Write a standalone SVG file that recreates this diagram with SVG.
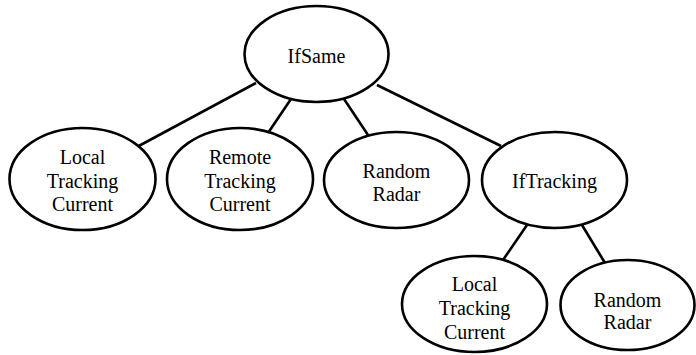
<svg xmlns="http://www.w3.org/2000/svg" width="696" height="355" viewBox="0 0 696 355">
  <style>
    .node ellipse { fill: #ffffff; stroke: #000000; stroke-width: 2.6; }
    .node text { font-family: "Liberation Serif", "Times New Roman", serif; font-size: 20px; fill: #000000; text-anchor: middle; }
    .edges line { stroke: #000000; stroke-width: 2.6; }
  </style>
  <rect width="696" height="355" fill="#ffffff"/>
  <!-- tree connectors -->
  <g id="edges" class="edges">
    <line x1="256" y1="83" x2="135" y2="148"/>
    <line x1="291" y1="99" x2="268" y2="133"/>
    <line x1="344" y1="99" x2="368" y2="135"/>
    <line x1="377" y1="85" x2="501" y2="146"/>
    <line x1="527" y1="225" x2="503" y2="260"/>
    <line x1="582" y1="225" x2="605" y2="263"/>
  </g>
  <g id="ifsame" class="node">
    <ellipse cx="316.5" cy="54" rx="72" ry="48"/>
    <text x="316.5" y="63">IfSame</text>
  </g>
  <g id="local1" class="node">
    <ellipse cx="82.5" cy="179" rx="73" ry="51"/>
    <text x="82.5" y="164">Local</text>
    <text x="82.5" y="187.5">Tracking</text>
    <text x="82.5" y="211">Current</text>
  </g>
  <g id="remote" class="node">
    <ellipse cx="240" cy="179" rx="73" ry="51"/>
    <text x="240" y="164">Remote</text>
    <text x="240" y="187.5">Tracking</text>
    <text x="240" y="211">Current</text>
  </g>
  <g id="random1" class="node">
    <ellipse cx="396.5" cy="180" rx="72.5" ry="48"/>
    <text x="396.5" y="178">Random</text>
    <text x="396.5" y="201">Radar</text>
  </g>
  <g id="iftracking" class="node">
    <ellipse cx="554.5" cy="180" rx="72.5" ry="48"/>
    <text x="554.5" y="188">IfTracking</text>
  </g>
  <g id="local2" class="node">
    <ellipse cx="474.5" cy="304" rx="72.5" ry="48"/>
    <text x="474.5" y="291">Local</text>
    <text x="474.5" y="315">Tracking</text>
    <text x="474.5" y="339">Current</text>
  </g>
  <g id="random2" class="node">
    <ellipse cx="627.5" cy="305" rx="67" ry="45"/>
    <text x="627.5" y="307">Random</text>
    <text x="627.5" y="329">Radar</text>
  </g>
</svg>
